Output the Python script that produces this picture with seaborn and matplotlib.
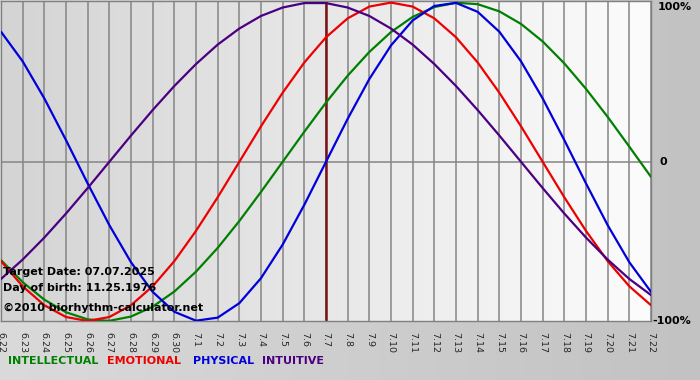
import numpy as np
import pandas as pd
import seaborn as sns
import matplotlib.pyplot as plt

# days shown (6.22 .. 7.22), target date 7.7
days = ['6.22', '6.23', '6.24', '6.25', '6.26', '6.27', '6.28', '6.29', '6.30',
        '7.1', '7.2', '7.3', '7.4', '7.5', '7.6', '7.7', '7.8', '7.9', '7.10',
        '7.11', '7.12', '7.13', '7.14', '7.15', '7.16', '7.17', '7.18', '7.19',
        '7.20', '7.21', '7.22']
target_day = '7.7'

intellectual = [-0.618, -0.756, -0.866, -0.945, -0.990, -0.999, -0.972, -0.910,
                -0.815, -0.690, -0.541, -0.372, -0.189, 0.0, 0.189, 0.372, 0.541,
                0.690, 0.815, 0.910, 0.972, 0.999, 0.990, 0.945, 0.866, 0.756,
                0.618, 0.458, 0.282, 0.095, -0.095]
emotional = [-0.624, -0.782, -0.901, -0.975, -1.0, -0.975, -0.901, -0.782,
             -0.624, -0.434, -0.223, 0.0, 0.223, 0.434, 0.624, 0.782, 0.901,
             0.975, 1.0, 0.975, 0.901, 0.782, 0.624, 0.434, 0.223, 0.0,
             -0.223, -0.434, -0.624, -0.782, -0.901]
physical = [0.817, 0.631, 0.398, 0.136, -0.136, -0.398, -0.631, -0.817,
            -0.942, -0.998, -0.979, -0.888, -0.731, -0.520, -0.270, 0.0, 0.270,
            0.520, 0.731, 0.888, 0.979, 0.998, 0.942, 0.817, 0.631, 0.398,
            0.136, -0.136, -0.398, -0.631, -0.817]
intuitive = [-0.736, -0.614, -0.476, -0.325, -0.165, 0.0, 0.165, 0.325, 0.476,
             0.614, 0.736, 0.837, 0.916, 0.969, 0.997, 0.997, 0.969, 0.916,
             0.837, 0.736, 0.614, 0.476, 0.325, 0.165, 0.0, -0.165, -0.325,
             -0.476, -0.614, -0.736, -0.837]

colors = {'INTELLECTUAL': '#008000', 'EMOTIONAL': '#ee0000',
          'PHYSICAL': '#0000dd', 'INTUITIVE': '#4b0082'}

df = pd.DataFrame({'day': range(len(days)),
                   'INTELLECTUAL': intellectual, 'EMOTIONAL': emotional,
                   'PHYSICAL': physical, 'INTUITIVE': intuitive})
long_df = df.melt(id_vars='day', var_name='rhythm', value_name='value')

sns.set_style('white')
fig = plt.figure(figsize=(7, 3.8), dpi=100)
cmap = plt.matplotlib.colors.LinearSegmentedColormap

# figure background gradient
bg = fig.add_axes([0, 0, 1, 1], zorder=-10)
bg.imshow(np.linspace(0, 1, 256).reshape(1, -1),
          cmap=cmap.from_list('bg', ['#dadada', '#c2c2c2']),
          aspect='auto', extent=[0, 1, 0, 1])
bg.set_axis_off()

ax = fig.add_axes([1 / 700, 59 / 380, 650 / 700, 320 / 380])
ax.imshow(np.linspace(0, 1, 256).reshape(1, -1),
          cmap=cmap.from_list('ax', ['#d4d4d4', '#fcfcfc']),
          aspect='auto', extent=[0, len(days) - 1, -1, 1], zorder=0)

for i in range(len(days)):
    ax.axvline(i, color='#858585', lw=1.1, zorder=1)
ax.axhline(0, color='#858585', lw=1.1, zorder=1)
ax.axvline(days.index(target_day), color='#7a1414', lw=1.8, zorder=2)

sns.lineplot(data=long_df, x='day', y='value', hue='rhythm', palette=colors,
             linewidth=1.6, legend=False, ax=ax, zorder=3)

ax.set_xlim(0, len(days) - 1)
ax.set_ylim(-1, 1.01)
ax.set_xticks(range(len(days)))
ax.set_xticklabels(days, rotation=270, fontsize=6.8)
ax.tick_params(axis='x', length=6, width=1, color='#555555', pad=2)
ax.set_yticks([])
ax.set_xlabel('')
ax.set_ylabel('')
for s in ax.spines.values():
    s.set_color('#808080')
    s.set_linewidth(1)

txt = dict(fontsize=8, fontweight='bold', color='black')
ax.text(0.1, -0.71, 'Target Date: 07.07.2025', **txt)
ax.text(0.1, -0.81, 'Day of birth: 11.25.1976', **txt)
ax.text(0.1, -0.94, '\u00a92010 biorhythm-calculator.net', **txt)

fig.text(658 / 700, 1 - 7 / 380, '100%', va='center', ha='left', **txt)
fig.text(660 / 700, 1 - 162 / 380, '0', va='center', ha='left', **txt)
fig.text(652 / 700, 1 - 321 / 380, '-100%', va='center', ha='left', **txt)

x = 8
for name, w in zip(colors, [99, 86, 69, 70]):
    fig.text(x / 700, 1 - 361 / 380, name, color=colors[name], fontsize=8,
             fontweight='bold', va='center', ha='left')
    x += w

fig.savefig('out.png', dpi=100)
